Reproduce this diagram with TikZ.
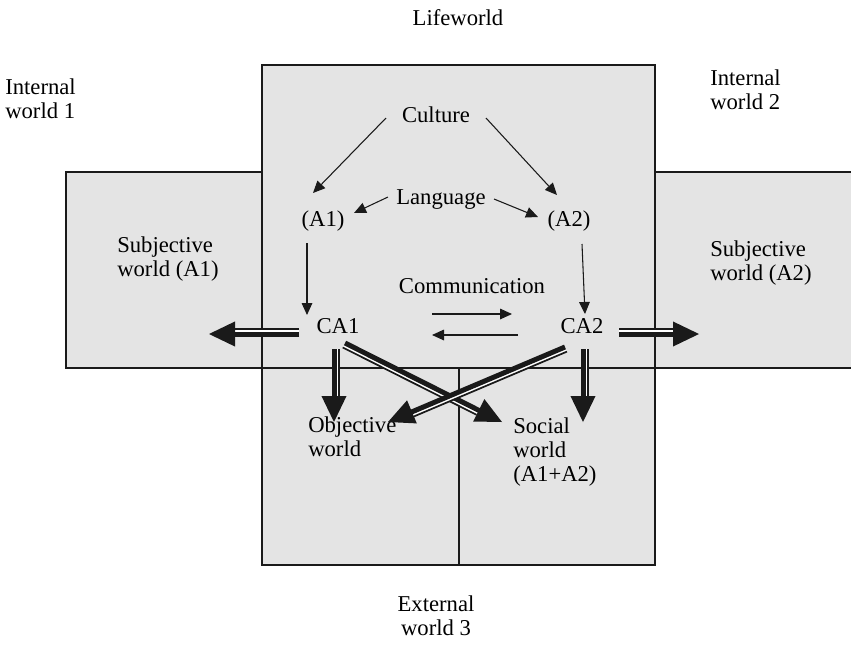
\documentclass[tikz,border=0pt]{standalone}
\usepackage{fontspec}
\setmainfont{Liberation Serif}
\usetikzlibrary{calc,arrows.meta}
\definecolor{panel}{HTML}{E4E4E4}
\definecolor{ink}{HTML}{1A1A1A}

% Wide "shadowed" arrow: thick shaft on the axis, thin companion line
% beside it (side given by #3 = 90 or -90), white gap, big filled head.
\newcommand{\widearrow}[3]{%
  \coordinate (wa-base) at ($(#2)!19.5pt!(#1)$);
  \draw[white, line width=3.75pt] ($(#1)!1.9pt!#3:(#2)$) -- ($(wa-base)!1.9pt!#3:(#2)$);
  \draw[ink, line width=3.75pt] (#1) -- ($(wa-base)!-1pt!(#1)$);
  \draw[ink, line width=1.3pt] ($(#1)!3.75pt!#3:(#2)$) -- ($(wa-base)!3.75pt!#3:(#2)$);
  \fill[ink] (#2) -- ($(wa-base)!9.4pt!90:(#2)$) -- ($(wa-base)!9.4pt!-90:(#2)$) -- cycle;
}

\begin{document}
\begin{tikzpicture}[x=0.75pt,y=-0.75pt,
  lbl/.style={font=\fontsize{17}{18}\selectfont, inner sep=0pt, text=black},
  frame/.style={draw=ink, line width=1pt},
  link/.style={draw=ink, line width=0.8pt, -{Triangle[length=9pt,width=8pt]}},
]
\useasboundingbox (0,0) rectangle (851,651);
\clip (0,0) rectangle (851,651);

% panels
\fill[panel] (262,65) rectangle (655,565);
\fill[panel] (66,172) rectangle (262,368);
\fill[panel] (655,172) rectangle (860,368);
\draw[frame] (262,65) rectangle (655,565);
\draw[frame] (66,172) rectangle (262,368);
\draw[frame] (655,172) rectangle (860,368);
\draw[frame] (262,368) -- (655,368);
\draw[frame] (459,368) -- (459,565);

% labels (multi-line labels are anchored at the baseline of their last line)
\node[lbl, anchor=base] (lifeworld) at (458,25) {Lifeworld};
\node[lbl, anchor=base west, align=left] (int1) at (5,118) {Internal\\world 1};
\node[lbl, anchor=base west, align=left] (int2) at (710,109) {Internal\\world 2};
\node[lbl, anchor=base] (culture) at (436,122) {Culture};
\node[lbl, anchor=base] (language) at (441,204) {Language};
\node[lbl, anchor=base] (a1) at (323,226) {(A1)};
\node[lbl, anchor=base] (a2) at (569,226) {(A2)};
\node[lbl, anchor=base west, align=left] (subj1) at (117,276) {Subjective\\world (A1)};
\node[lbl, anchor=base west, align=left] (subj2) at (710,280) {Subjective\\world (A2)};
\node[lbl, anchor=base] (comm) at (472,293) {Communication};
\node[lbl, anchor=base] (ca1) at (338,333) {CA1};
\node[lbl, anchor=base] (ca2) at (582,333) {CA2};
\node[lbl, anchor=base west, align=left] (objw) at (308,456) {Objective\\world};
\node[lbl, anchor=base west, align=left] (socw) at (513,481) {Social\\world\\(A1+A2)};
\node[lbl, anchor=base, align=center] (ext3) at (436,635) {External\\world 3};

% thin connector end points
\coordinate (cu-l) at (386,118);  \coordinate (a1-t) at (313,193);
\coordinate (cu-r) at (486,118);  \coordinate (a2-t) at (557,195);
\coordinate (la-l) at (388,197);  \coordinate (a1-r) at (354,213);
\coordinate (la-r) at (494,199);  \coordinate (a2-l) at (538,217);
\coordinate (a1-b) at (307,243);  \coordinate (ca1-t) at (307,315);
\coordinate (a2-b) at (582,244);  \coordinate (ca2-t) at (585,314);
\coordinate (cm-a) at (432,314);  \coordinate (cm-b) at (512,314);
\coordinate (cm-c) at (518,335);  \coordinate (cm-d) at (432,335);

\draw[link] (cu-l) -- (a1-t);
\draw[link] (cu-r) -- (a2-t);
\draw[link] (la-l) -- (a1-r);
\draw[link] (la-r) -- (a2-l);
\draw[link] (a1-b) -- (ca1-t);
\draw[link] (a2-b) -- (ca2-t);
\draw[link] (cm-a) -- (cm-b);
\draw[link] (cm-c) -- (cm-d);

% wide arrow end points
\coordinate (ca1-w) at (299,334);  \coordinate (out1) at (209,334);
\coordinate (ca2-e) at (619,334);  \coordinate (out2) at (699,334);
\coordinate (ca1-s) at (334,349);  \coordinate (obj-t) at (334,422);
\coordinate (ca2-s) at (583,349);  \coordinate (soc-t) at (583,422);
\coordinate (ca1-x) at (345,343);  \coordinate (soc-x) at (502,422);
\coordinate (ca2-x) at (565,347);  \coordinate (obj-x) at (388,422);

\widearrow{ca1-w}{out1}{-90}
\widearrow{ca2-e}{out2}{90}
\widearrow{ca1-s}{obj-t}{90}
\widearrow{ca2-s}{soc-t}{90}
\widearrow{ca1-x}{soc-x}{-90}
\widearrow{ca2-x}{obj-x}{90}
\end{tikzpicture}
\end{document}
